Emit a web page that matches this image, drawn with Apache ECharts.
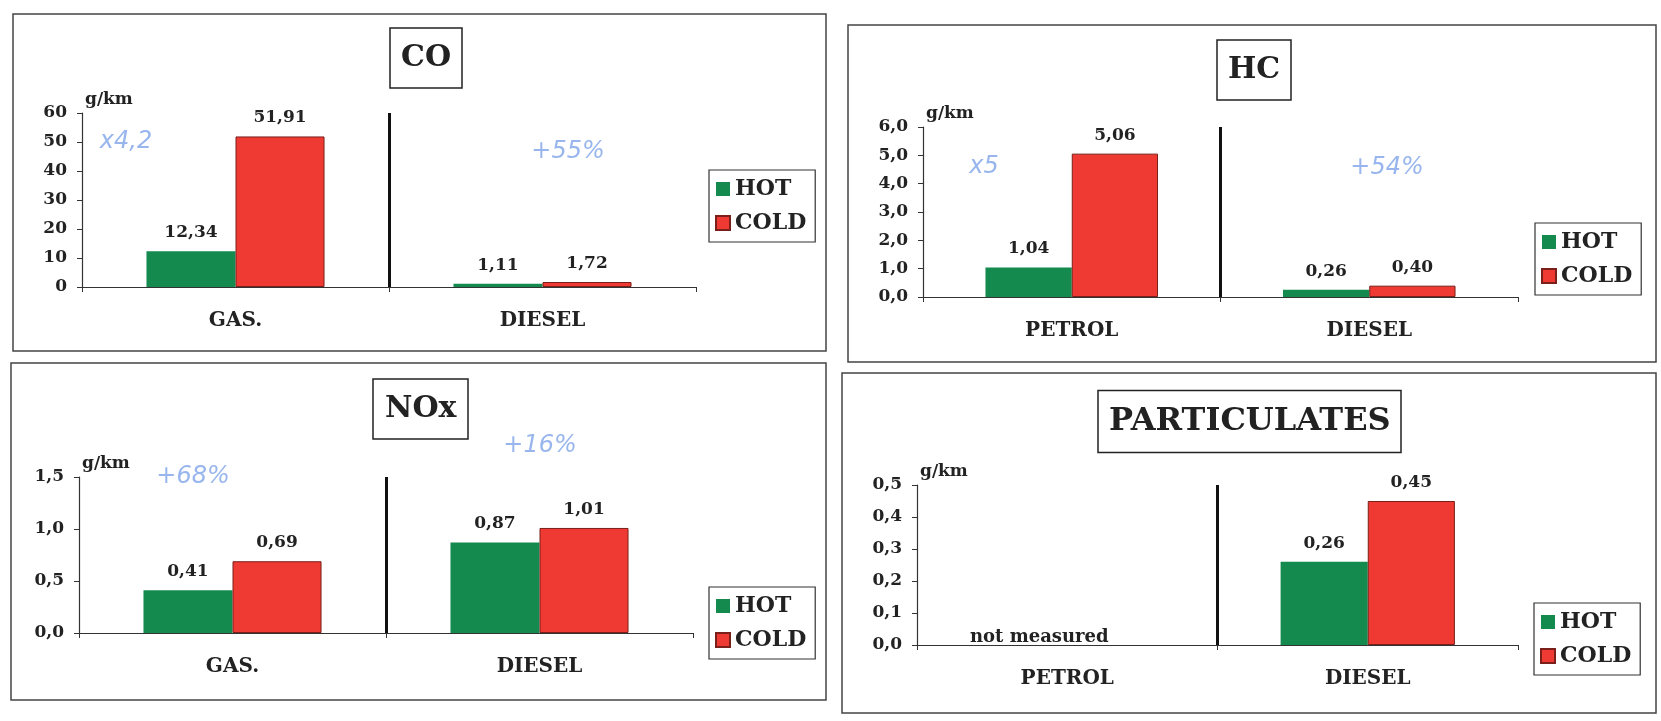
<!DOCTYPE html>
<html>
<head>
<meta charset="utf-8">
<title>Hot / cold start emissions</title>
<script src="https://cdn.jsdelivr.net/npm/echarts@6/dist/echarts.min.js"></script>
<style>
    html, body { margin: 0; padding: 0; background: #fff; }
    #emissions { width: 1661px; height: 721px; }
</style>
</head>
<body>
<div id="emissions"></div>
<script>
// values (g/km)
var legendNames = ['HOT', 'COLD'];

var coCategories = ['GAS.', 'DIESEL'];
var coHot = [12.34, 1.11];
var coCold = [51.91, 1.72];

var hcCategories = ['PETROL', 'DIESEL'];
var hcHot = [1.04, 0.26];
var hcCold = [5.06, 0.40];

var noxCategories = ['GAS.', 'DIESEL'];
var noxHot = [0.41, 0.87];
var noxCold = [0.69, 1.01];

var pmCategories = ['PETROL', 'DIESEL'];
var pmHot = [null, 0.26];
var pmCold = [null, 0.45];

// handwritten notes on the scan
var notes = ['x4,2', '+55%', 'x5', '+54%', '+68%', '+16%'];

(function () {
    "use strict";

    var SERIF = '"DejaVu Serif", "Liberation Serif", serif';
    var INK = '#222';
    var HOT_COLOR = '#148a4f';
    var COLD_COLOR = '#ee3a32';

    var chart = echarts.init(document.getElementById('emissions'));

    function comma(v, digits) {
        return Number(v).toFixed(digits).replace('.', ',');
    }

    // layout of each panel: box = frame, grid = plot area, title = [left, top, padX, fontSize]
    var panels = [
        { name: 'CO', categories: coCategories, hot: coHot, cold: coCold, max: 60, step: 10, digits: 0,
          box: [13, 14, 813, 337], grid: [82, 113, 614, 174], title: [390, 28, 11, 30], legend: [709, 170] },
        { name: 'HC', categories: hcCategories, hot: hcHot, cold: hcCold, max: 6, step: 1, digits: 1,
          box: [848, 25, 808, 337], grid: [923, 127, 595, 170], title: [1217, 40, 11, 30], legend: [1535, 223] },
        { name: 'NOx', categories: noxCategories, hot: noxHot, cold: noxCold, max: 1.5, step: 0.5, digits: 1,
          box: [11, 363, 815, 337], grid: [79, 477, 614, 156], title: [373, 379, 12, 30], legend: [709, 587] },
        { name: 'PARTICULATES', categories: pmCategories, hot: pmHot, cold: pmCold, max: 0.5, step: 0.1, digits: 1,
          box: [842, 373, 814, 340], grid: [917, 485, 601, 160], title: [1098, 390, 11, 32], legend: [1534, 603] }
    ];

    var notePos = [[126, 142], [568, 152], [984, 167], [1387, 168], [193, 477], [540, 446]];

    var option = {
        backgroundColor: '#fff',
        animation: false,
        title: [], legend: [], grid: [], xAxis: [], yAxis: [], series: []
    };

    panels.forEach(function (p, i) {
        var padY = p.title[3] === 30 ? 15 : 15.5;
        option.title.push({
            text: p.name,
            left: p.title[0],
            top: p.title[1],
            padding: [padY, p.title[2], padY, p.title[2]],
            borderColor: '#222',
            borderWidth: 1.5,
            textStyle: { fontFamily: SERIF, fontWeight: 'bold', fontSize: p.title[3], color: INK }
        });

        option.legend.push({
            data: legendNames,
            orient: 'vertical',
            left: p.legend[0],
            top: p.legend[1],
            icon: 'rect',
            itemWidth: 14,
            itemHeight: 14,
            itemGap: 12,
            padding: [8, 9, 8, 6],
            borderColor: '#333',
            borderWidth: 1.2,
            selectedMode: false,
            textStyle: { fontFamily: SERIF, fontWeight: 'bold', fontSize: 22, color: INK }
        });

        option.grid.push({ left: p.grid[0], top: p.grid[1], width: p.grid[2], height: p.grid[3] });

        option.xAxis.push({
            type: 'category',
            gridIndex: i,
            data: p.categories,
            axisLine: { lineStyle: { color: '#333', width: 1.2 } },
            axisTick: { show: true, length: 5, lineStyle: { color: '#333' } },
            axisLabel: { margin: 24, fontFamily: SERIF, fontWeight: 'bold', fontSize: 20, color: INK },
            splitLine: { show: true, showMinLine: false, showMaxLine: false,
                         lineStyle: { color: '#111', width: 3 } }
        });

        option.yAxis.push({
            type: 'value',
            gridIndex: i,
            min: 0,
            max: p.max,
            interval: p.step,
            name: 'g/km',
            nameLocation: 'end',
            nameGap: 5,
            nameTextStyle: { fontFamily: SERIF, fontWeight: 'bold', fontSize: 17, color: INK,
                             align: 'left', verticalAlign: 'bottom', padding: [0, 0, 0, 3] },
            axisLine: { show: true, lineStyle: { color: '#333', width: 1.2 } },
            axisTick: { show: true, length: 5, lineStyle: { color: '#333' } },
            splitLine: { show: false },
            axisLabel: {
                margin: 15, fontFamily: SERIF, fontWeight: 'bold', fontSize: 17, color: INK,
                formatter: function (v) { return comma(v, p.digits); }
            }
        });

        [[legendNames[0], p.hot, HOT_COLOR, null], [legendNames[1], p.cold, COLD_COLOR, '#7a1f1a']]
            .forEach(function (s) {
                option.series.push({
                    name: s[0],
                    type: 'bar',
                    xAxisIndex: i,
                    yAxisIndex: i,
                    data: s[1],
                    barWidth: '29%',
                    barGap: '0%',
                    itemStyle: { color: s[2], borderColor: s[3] || s[2], borderWidth: s[3] ? 1 : 0 },
                    emphasis: { disabled: true },
                    label: {
                        show: true, position: 'top', distance: 10,
                        fontFamily: SERIF, fontWeight: 'bold', fontSize: 17, color: INK,
                        formatter: function (d) { return comma(d.value, 2); }
                    }
                });
            });
    });

    chart.setOption(option);

    // frames, handwritten notes and the "not measured" remark
    var graphics = panels.map(function (p, i) {
        return {
            type: 'rect', id: 'frame' + i, silent: true, z: -1,
            shape: { x: p.box[0], y: p.box[1], width: p.box[2], height: p.box[3] },
            style: { fill: null, stroke: '#444', lineWidth: 1.5 }
        };
    });
    notes.forEach(function (t, i) {
        graphics.push({
            type: 'text', id: 'note' + i, silent: true,
            x: notePos[i][0], y: notePos[i][1],
            style: { text: t, fill: '#86a9ea', font: 'italic 24px "DejaVu Sans"',
                     align: 'center', verticalAlign: 'middle', opacity: 0.85 }
        });
    });
    var nm = chart.convertToPixel({ xAxisIndex: 3, yAxisIndex: 3 }, [pmCategories[0], 0]);
    graphics.push({
        type: 'text', id: 'notMeasured', silent: true,
        x: nm[0] - 28, y: nm[1] + 1,
        style: { text: 'not measured', fill: INK, font: 'bold 18px ' + SERIF,
                 align: 'center', verticalAlign: 'bottom' }
    });
    chart.setOption({ graphic: graphics });

    window.addEventListener('resize', function () {
        chart.resize();
    });
})();
</script>
</body>
</html>
